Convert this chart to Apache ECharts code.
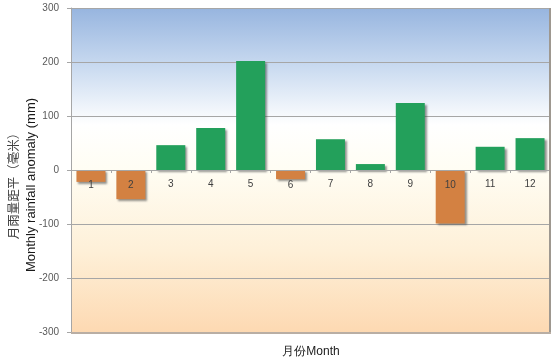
<!DOCTYPE html>
<html><head><meta charset="utf-8">
<script src="https://cdn.jsdelivr.net/npm/echarts@6/dist/echarts.min.js"></script>
<style>html,body{margin:0;padding:0;background:#fff}#c{width:560px;height:362px}</style>
</head><body><div id="c"></div>
<script>
const months = ['1','2','3','4','5','6','7','8','9','10','11','12'];
const anomaly = [-22, -54, 46, 78, 202, -17, 57, 11, 124, -99, 43, 59];
const yTicks = {min: -300, max: 300, interval: 100};
const yTitleZh = '月雨量距平（毫米）';
const yTitleEn = 'Monthly rainfall anomaly (mm)';
const xTitle = '月份Month';

const labelBase = {show: true, formatter: p => p.name, color: '#404040', fontSize: 10, fontFamily: 'Liberation Sans'};
const chart = echarts.init(document.getElementById('c'), null, {renderer: 'canvas'});
chart.setOption({
  animation: false,
  backgroundColor: '#fff',
  grid: {
    left: 71, right: 10, top: 8, bottom: 30, show: true,
    borderColor: '#b8b0a8', borderWidth: 0,
    backgroundColor: {type: 'linear', x: 0, y: 0, x2: 0, y2: 1, colorStops: [
      {offset: 0, color: '#97b5df'},
      {offset: 0.18, color: '#c9daf0'},
      {offset: 0.36, color: '#ffffff'},
      {offset: 0.5, color: '#fffdf3'},
      {offset: 0.75, color: '#fef0d8'},
      {offset: 1, color: '#fdd9b2'}
    ]}
  },
  xAxis: {
    type: 'category', data: months,
    axisLine: {onZero: true, lineStyle: {color: '#a6a6a6', width: 1}},
    axisTick: {show: true, length: 3, lineStyle: {color: '#a6a6a6'}},
    axisLabel: {show: false},
    z: 5
  },
  yAxis: {
    type: 'value', min: yTicks.min, max: yTicks.max, interval: yTicks.interval,
    axisLine: {show: true, lineStyle: {color: '#a6a6a6'}},
    axisTick: {show: true, length: 4, lineStyle: {color: '#a6a6a6'}},
    axisLabel: {color: '#595959', fontSize: 10, margin: 12, fontFamily: 'Liberation Sans'},
    splitLine: {lineStyle: {color: '#a6a6a6', width: 1}}
  },
  series: [{
    type: 'bar',
    data: anomaly.map(v => ({
      value: v,
      itemStyle: {color: v >= 0 ? '#23a05b' : '#d38142'},
      label: v >= 0 ? Object.assign({}, labelBase, {position: 'bottom', distance: 9})
                    : Object.assign({}, labelBase, {position: 'insideTop', distance: 10})
    })),
    barWidth: 29,
    itemStyle: {shadowColor: 'rgba(60,60,60,0.55)', shadowBlur: 2, shadowOffsetX: 2, shadowOffsetY: 2},
    z: 3
  }],
  graphic: [
    {type: 'rect', shape: {x: 549, y: 8, width: 2, height: 325}, style: {fill: '#9e9890'}, z: 10},
    {type: 'rect', shape: {x: 71, y: 332, width: 480, height: 2}, style: {fill: '#b9aea4'}, z: 10},
    {type: 'text', x: 13, y: 183, rotation: Math.PI / 2,
      style: {text: yTitleZh, fontSize: 12.5, fill: '#404040', align: 'center', verticalAlign: 'middle', fontFamily: 'Noto Sans CJK TC'}},
    {type: 'text', x: 31, y: 185, rotation: Math.PI / 2,
      style: {text: yTitleEn, fontSize: 13, fill: '#1a1a1a', align: 'center', verticalAlign: 'middle', fontFamily: 'Liberation Sans'}},
    {type: 'text', x: 311, y: 352,
      style: {text: xTitle, fontSize: 12, fill: '#1a1a1a', align: 'center', verticalAlign: 'middle', fontFamily: 'Liberation Sans'}}
  ]
});
</script></body></html>
